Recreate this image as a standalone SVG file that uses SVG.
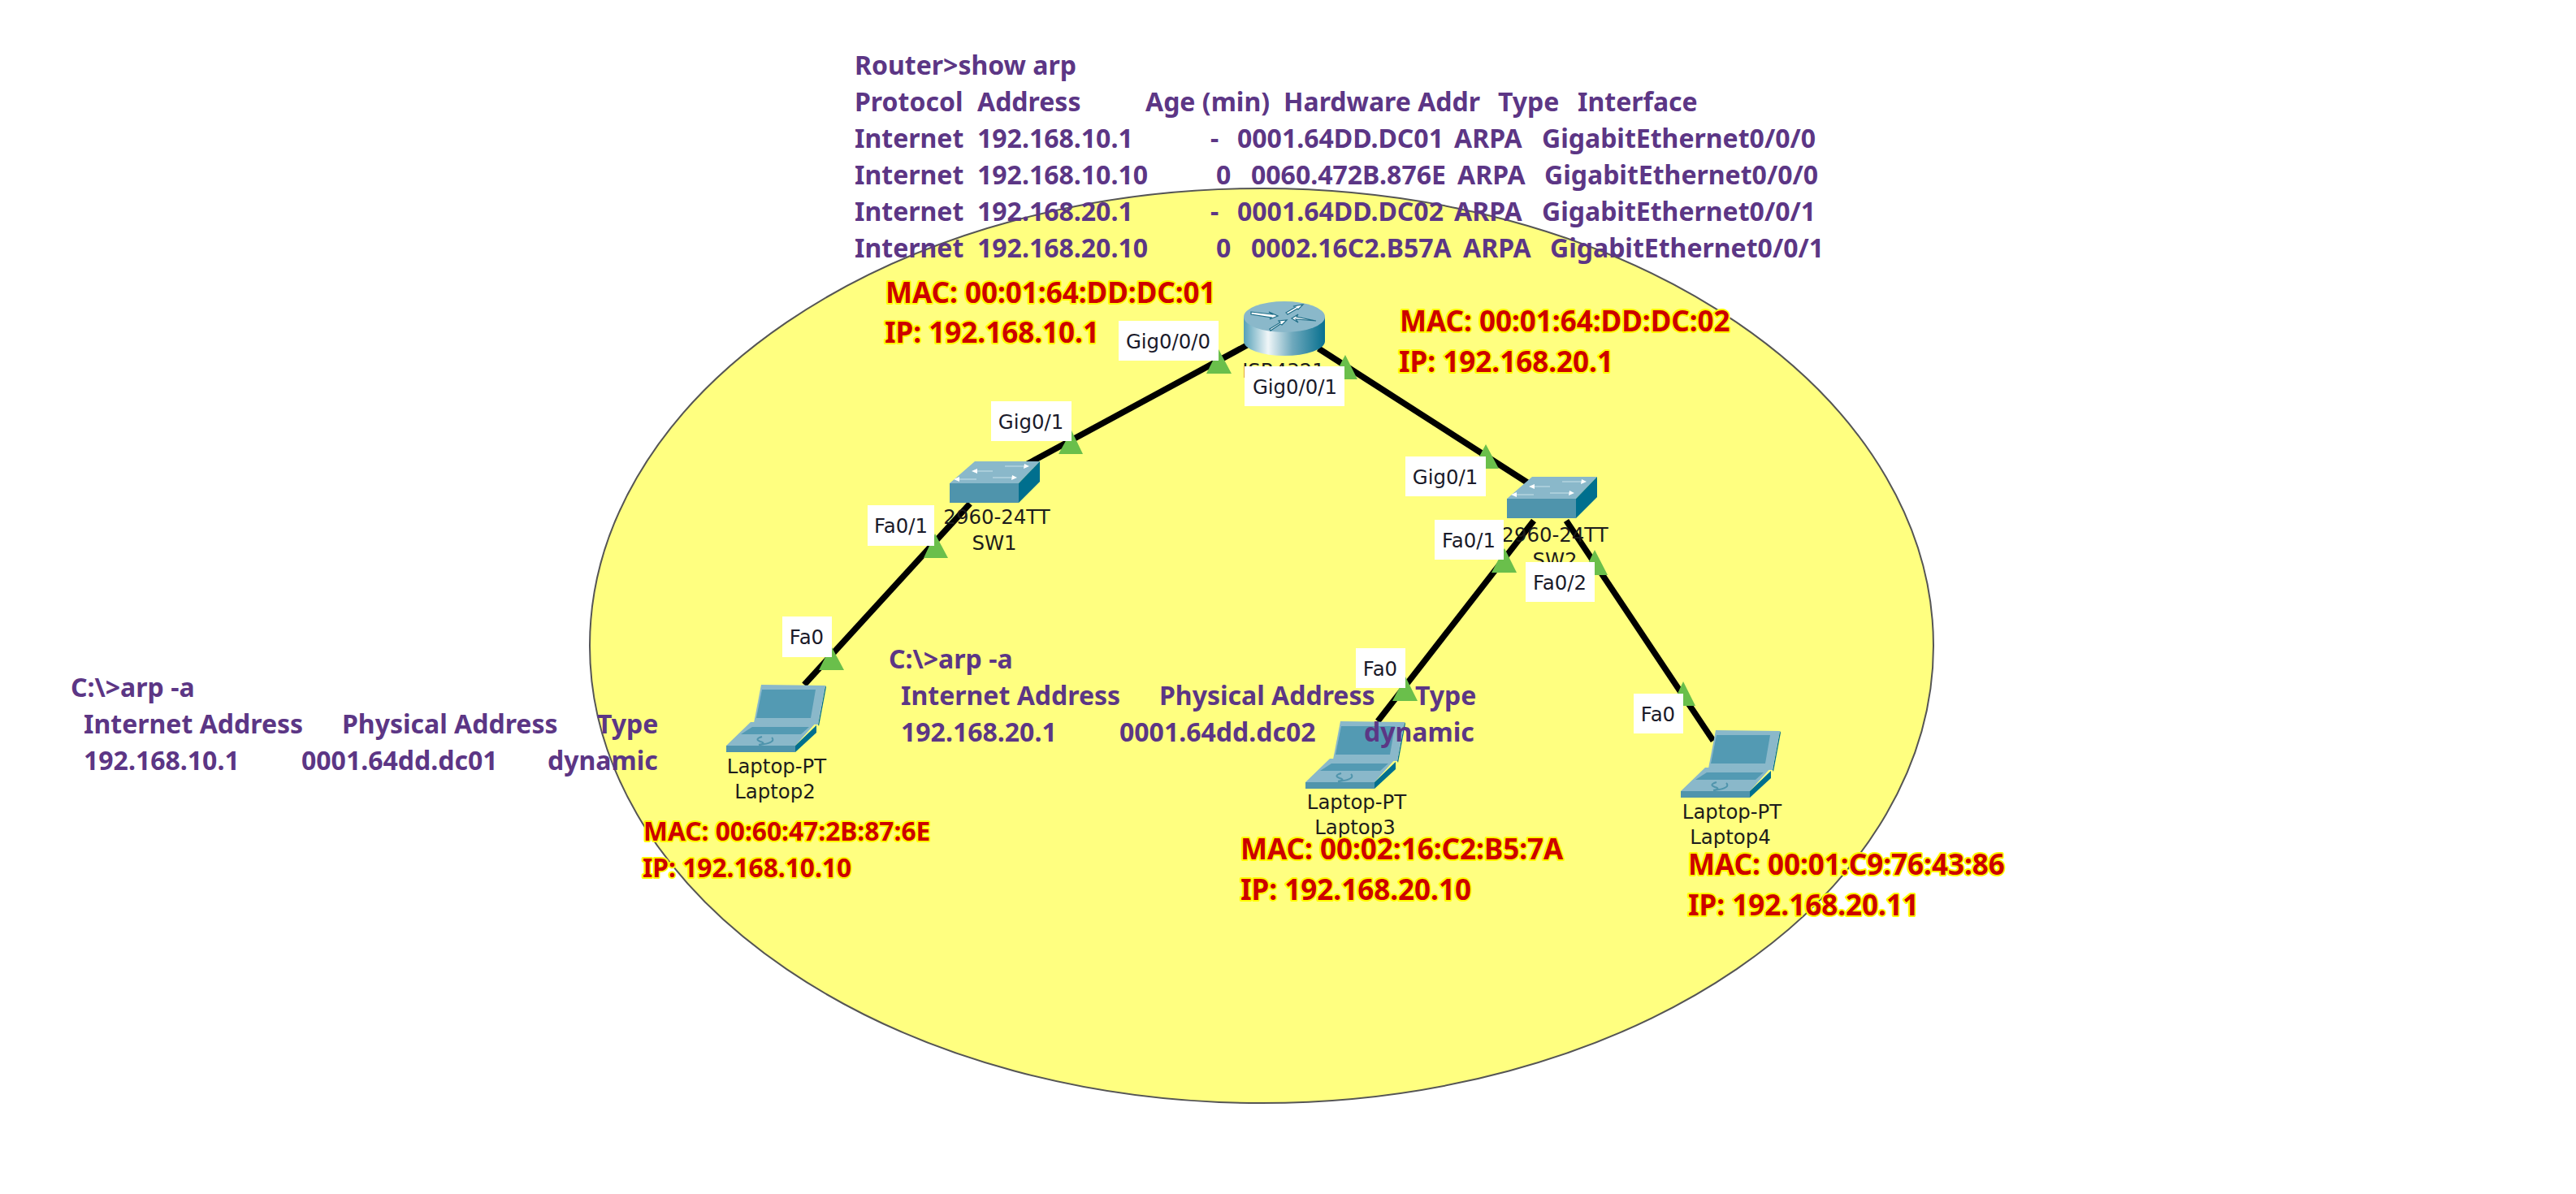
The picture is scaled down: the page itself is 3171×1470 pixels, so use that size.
<svg xmlns="http://www.w3.org/2000/svg" width="3171" height="1470" viewBox="0 0 3171 1470">
<style>
text{font-family:"Noto Sans","Open Sans","DejaVu Sans",sans-serif}
.cmd{font-size:32px;font-weight:700;fill:#5c3685}
.addr{font-size:35px;font-weight:700;fill:#cc0000;stroke:#ffff00;stroke-width:4px;paint-order:stroke;stroke-linejoin:round}
.small{font-size:31.7px}
.dev{font-family:"DejaVu Sans",sans-serif;font-size:24.4px;fill:#1c1c1c;text-anchor:middle}
.port{font-family:"DejaVu Sans",sans-serif;font-size:24.4px;fill:#1a1a2a;text-anchor:middle}
.box{fill:#ffffff}
.link{stroke:#000;stroke-width:7.5;fill:none}
.tri{fill:#6abf4b}
.a{fill:#8ab8ca}.b{fill:#539ab3}.c{fill:#006f8e}.d{fill:#4f94ac}
</style>
<defs>
<linearGradient id="cyl" x1="0" x2="1" y1="0" y2="0">
<stop offset="0" stop-color="#55a0b8"/><stop offset=".3" stop-color="#f0f6f8"/><stop offset=".6" stop-color="#6fa9bd"/><stop offset="1" stop-color="#07708f"/>
</linearGradient>
<g id="switch">
<polygon class="a" points="1169,595 1200,568 1280,568 1254,595"/>
<rect class="d" x="1169" y="595" width="85" height="24"/>
<polygon class="c" points="1254,595 1280,568 1280,593 1254,619"/>
<path d="M1200,580h22M1237,574h24M1178,590h24M1222,588h24" stroke="#a9cdda" stroke-width="2" fill="none"/>
<path d="M1196,580l7,-3v6zM1261,571l6,3l-7,3zM1174,590l7,-3v6zM1246,585l6,3l-7,3z" fill="#fff"/>
</g>
<g id="laptop">
<polygon class="a" points="894,918 924,889 1005,889 979,918"/>
<polygon class="c" points="1016,844 1017,846 1008,894 1007,892"/>
<polygon class="a" points="937,843 1016,844 1007,892 928,890"/>
<polygon class="b" points="938,849 1004,849 998,884 931,884"/>
<polygon class="b" points="912,904 926,895 996,895 986,904"/>
<polygon class="d" points="894,918 979,918 979,926 894,926"/>
<polygon class="c" points="979,918 1005,893 1005,902 979,926"/>
<path d="M938,907q-10,3 -2,6q8,2 -2,4M950,908q6,6 -14,9" stroke="#4f94ac" stroke-width="2" fill="none"/>
</g>
</defs>
<ellipse cx="1553" cy="795" rx="827" ry="563" fill="#ffff80" stroke="#555" stroke-width="2"/>
<g id="connectors">
<line class="link" x1="1535" y1="425" x2="1230" y2="590"/>
<line class="link" x1="1623" y1="429" x2="1880" y2="594"/>
<line class="link" x1="1194" y1="620" x2="990" y2="843"/>
<line class="link" x1="1888" y1="641" x2="1696" y2="888"/>
<line class="link" x1="1928" y1="641" x2="2109" y2="912"/>
<polygon class="tri" points="1500,430 1485,460 1516,460"/>
<polygon class="tri" points="1656,437 1640,467 1671,467"/>
<polygon class="tri" points="1319,530 1303,559 1333,559"/>
<polygon class="tri" points="1151,657 1137,687 1167,687"/>
<polygon class="tri" points="1829,547 1813,577 1845,577"/>
<polygon class="tri" points="1852,675 1836,705 1867,705"/>
<polygon class="tri" points="1963,677 1948,708 1979,708"/>
<polygon class="tri" points="1023,795 1008,825 1039,825"/>
<polygon class="tri" points="1730,833 1714,863 1745,863"/>
<polygon class="tri" points="2072,839 2058,869 2087,869"/>
</g>
<g id="router">
<path d="M1531,390V420A50,18 0 0 0 1631,420V390Z" fill="url(#cyl)"/>
<ellipse class="a" cx="1581" cy="390" rx="50" ry="19"/>
<path d="M1540,384l26,3l-4,-3l11,5l-10,4l2,-2l-25,-4zM1583,385l12,-7l-3,-1l12,-2l-6,6l-1,-1l-12,7zM1590,392l8,-5l-2,3l24,5l-25,-2l3,4zM1563,405l13,-8l-2,-2l10,-1l-6,6l-2,-1l-12,8z" fill="#fff" stroke="#1f6e88" stroke-width="1.2"/>
<text class="dev" x="1580" y="465">ISR4321</text>
</g>
<g id="sw1">
<use href="#switch"/>
<text class="dev" x="1227" y="645">2960-24TT</text>
<text class="dev" x="1224" y="677">SW1</text>
</g>
<g id="sw2">
<use href="#switch" x="686" y="19"/>
<text class="dev" x="1914" y="667">2960-24TT</text>
<text class="dev" x="1914" y="698">SW2</text>
</g>
<g id="laptop2">
<use href="#laptop"/>
<text class="dev" x="956" y="952">Laptop-PT</text>
<text class="dev" x="954" y="983">Laptop2</text>
</g>
<g id="laptop3">
<use href="#laptop" x="713" y="45"/>
<text class="dev" x="1670" y="996">Laptop-PT</text>
<text class="dev" x="1668" y="1027">Laptop3</text>
</g>
<g id="laptop4">
<use href="#laptop" x="1175" y="56"/>
<text class="dev" x="2132" y="1008">Laptop-PT</text>
<text class="dev" x="2130" y="1039">Laptop4</text>
</g>
<g id="port-labels">
<rect class="box" x="1377" y="395" width="123" height="49"/><text class="port" x="1438" y="429">Gig0/0/0</text>
<rect class="box" x="1532" y="451" width="123" height="49"/><text class="port" x="1594" y="485">Gig0/0/1</text>
<rect class="box" x="1220" y="494" width="99" height="49"/><text class="port" x="1269" y="528">Gig0/1</text>
<rect class="box" x="1068" y="622" width="82" height="50"/><text class="port" x="1109" y="656">Fa0/1</text>
<rect class="box" x="1730" y="562" width="99" height="49"/><text class="port" x="1779" y="596">Gig0/1</text>
<rect class="box" x="1766" y="640" width="85" height="49"/><text class="port" x="1808" y="674">Fa0/1</text>
<rect class="box" x="1878" y="692" width="85" height="49"/><text class="port" x="1920" y="726">Fa0/2</text>
<rect class="box" x="963" y="759" width="61" height="50"/><text class="port" x="993" y="793">Fa0</text>
<rect class="box" x="1669" y="798" width="61" height="49"/><text class="port" x="1699" y="832">Fa0</text>
<rect class="box" x="2011" y="854" width="61" height="49"/><text class="port" x="2041" y="888">Fa0</text>
</g>
<g id="router-arp">
<text class="cmd" x="1052" y="92">Router&gt;show arp</text>
<text class="cmd" y="137"><tspan x="1052">Protocol</tspan> <tspan x="1203">Address</tspan> <tspan x="1410">Age (min)</tspan> <tspan x="1580">Hardware Addr</tspan> <tspan x="1844">Type</tspan> <tspan x="1942">Interface</tspan></text>
<text class="cmd" y="182"><tspan x="1052">Internet</tspan> <tspan x="1203">192.168.10.1</tspan> <tspan x="1490">-</tspan> <tspan x="1523">0001.64DD.DC01</tspan> <tspan x="1790">ARPA</tspan> <tspan x="1898">GigabitEthernet0/0/0</tspan></text>
<text class="cmd" y="227"><tspan x="1052">Internet</tspan> <tspan x="1203">192.168.10.10</tspan> <tspan x="1497">0</tspan> <tspan x="1540">0060.472B.876E</tspan> <tspan x="1794">ARPA</tspan> <tspan x="1901">GigabitEthernet0/0/0</tspan></text>
<text class="cmd" y="272"><tspan x="1052">Internet</tspan> <tspan x="1203">192.168.20.1</tspan> <tspan x="1490">-</tspan> <tspan x="1523">0001.64DD.DC02</tspan> <tspan x="1790">ARPA</tspan> <tspan x="1898">GigabitEthernet0/0/1</tspan></text>
<text class="cmd" y="317"><tspan x="1052">Internet</tspan> <tspan x="1203">192.168.20.10</tspan> <tspan x="1497">0</tspan> <tspan x="1540">0002.16C2.B57A</tspan> <tspan x="1801">ARPA</tspan> <tspan x="1908">GigabitEthernet0/0/1</tspan></text>
</g>
<g id="laptop2-arp">
<text class="cmd" x="87" y="858">C:\&gt;arp -a</text>
<text class="cmd" y="903"><tspan x="103">Internet Address</tspan> <tspan x="421">Physical Address</tspan> <tspan x="735">Type</tspan></text>
<text class="cmd" y="948"><tspan x="103">192.168.10.1</tspan> <tspan x="371">0001.64dd.dc01</tspan> <tspan x="674">dynamic</tspan></text>
</g>
<g id="laptop3-arp">
<text class="cmd" x="1094" y="823">C:\&gt;arp -a</text>
<text class="cmd" y="868"><tspan x="1109">Internet Address</tspan> <tspan x="1427">Physical Address</tspan> <tspan x="1742">Type</tspan></text>
<text class="cmd" y="913"><tspan x="1109">192.168.20.1</tspan> <tspan x="1378">0001.64dd.dc02</tspan> <tspan x="1679">dynamic</tspan></text>
</g>
<g id="addresses">
<text class="addr" x="1090" y="373">MAC: 00:01:64:DD:DC:01</text>
<text class="addr" x="1089" y="422">IP: 192.168.10.1</text>
<text class="addr" x="1723" y="408">MAC: 00:01:64:DD:DC:02</text>
<text class="addr" x="1722" y="458">IP: 192.168.20.1</text>
<text class="addr small" x="792" y="1035">MAC: 00:60:47:2B:87:6E</text>
<text class="addr small" x="791" y="1080">IP: 192.168.10.10</text>
<text class="addr" x="1527" y="1058">MAC: 00:02:16:C2:B5:7A</text>
<text class="addr" x="1527" y="1108">IP: 192.168.20.10</text>
<text class="addr" x="2078" y="1077">MAC: 00:01:C9:76:43:86</text>
<text class="addr" x="2078" y="1127">IP: 192.168.20.11</text>
</g>
</svg>
